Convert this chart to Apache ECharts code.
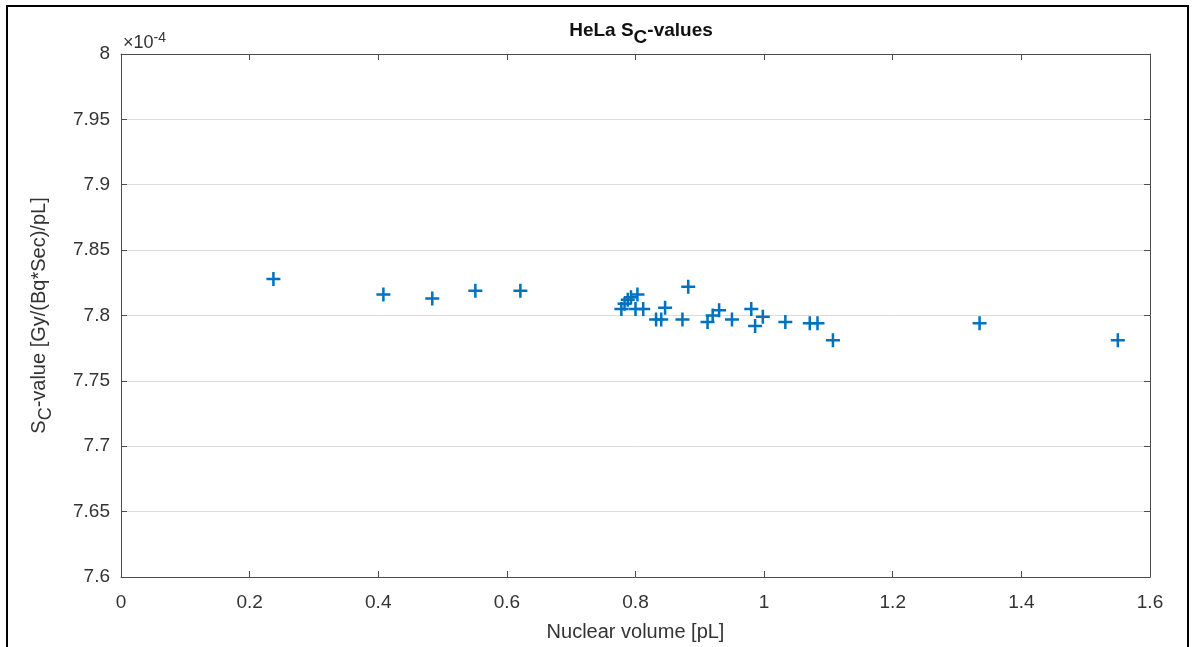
<!DOCTYPE html>
<html>
<head>
<meta charset="utf-8">
<script src="https://cdn.jsdelivr.net/npm/echarts@6/dist/echarts.min.js"></script>
<style>
  html, body { margin: 0; padding: 0; background: #fff; }
  #chart { width: 1194px; height: 647px; }
</style>
</head>
<body>
<div id="chart"></div>
<script>
// nuclear volume [pL]
const volume = [0.237, 0.408, 0.484, 0.551, 0.621,
  0.778, 0.783, 0.788, 0.793, 0.800, 0.803, 0.812,
  0.832, 0.840, 0.846, 0.873, 0.882,
  0.912, 0.920, 0.930, 0.950, 0.980, 0.986, 0.998,
  1.033, 1.071, 1.083, 1.107, 1.335, 1.550]
// S_C value, in units of 1e-4 Gy/(Bq*Sec)/pL
const scValue = [7.828, 7.816, 7.813, 7.819, 7.819,
  7.805, 7.809, 7.812, 7.814, 7.805, 7.816, 7.805,
  7.797, 7.797, 7.806, 7.797, 7.822,
  7.795, 7.800, 7.804, 7.797, 7.805, 7.792, 7.799,
  7.795, 7.794, 7.794, 7.781, 7.794, 7.781]
const xTicks = [0, 1.6, 0.2]   // min, max, step
const yTicks = [7.6, 8.0, 0.05]

const points = volume.map((v, i) => [v, scValue[i]])

const axisColor = '#4d4d4d'
const textColor = '#333'
const font = 'Liberation Sans, Arial, sans-serif'
const plus = 'path://M4.1,0H5.9V4.1H10V5.9H5.9V10H4.1V5.9H0V4.1H4.1Z'

const xBase = {
  type: 'value', min: xTicks[0], max: xTicks[1], interval: xTicks[2],
  axisLine: { show: true, onZero: false, lineStyle: { color: axisColor, width: 1 } },
  axisTick: { show: true, inside: true, length: 6, lineStyle: { color: axisColor } },
  splitLine: { show: false }
}
const yBase = {
  type: 'value', min: yTicks[0], max: yTicks[1], interval: yTicks[2],
  axisLine: { show: true, onZero: false, lineStyle: { color: axisColor, width: 1 } },
  axisTick: { show: true, inside: true, length: 6, lineStyle: { color: axisColor } }
}

const option = {
  animation: false,
  title: {
    text: 'HeLa S{sub|C}-values',
    left: 636, top: 9, textAlign: 'center',
    textStyle: {
      fontFamily: font, fontSize: 19, fontWeight: 'bold', color: '#111',
      rich: { sub: { fontFamily: font, fontSize: 19, fontWeight: 'bold', color: '#111', verticalAlign: 'bottom', padding: [14, 0, 0, 0] } }
    }
  },
  grid: { left: 121, right: 44, top: 54, bottom: 70 },
  xAxis: [
    Object.assign({}, xBase, {
      position: 'bottom',
      name: 'Nuclear volume [pL]', nameLocation: 'middle', nameGap: 45,
      nameTextStyle: { fontFamily: font, fontSize: 20, color: textColor },
      axisLabel: { fontFamily: font, fontSize: 19, color: textColor, margin: 16 }
    }),
    Object.assign({}, xBase, { position: 'top', axisLabel: { show: false } })
  ],
  yAxis: [
    Object.assign({}, yBase, {
      position: 'left',
      name: 'S{sub|C}-value [Gy/(Bq*Sec)/pL]', nameLocation: 'middle', nameGap: 66,
      nameTextStyle: {
        fontFamily: font, fontSize: 20, color: textColor,
        rich: { sub: { fontFamily: font, fontSize: 18, color: textColor, verticalAlign: 'bottom', padding: [14, 0, 0, 0] } }
      },
      axisLabel: { fontFamily: font, fontSize: 19, color: textColor, margin: 11 },
      splitLine: { show: true, lineStyle: { color: '#dcdcdc', width: 1 } }
    }),
    Object.assign({}, yBase, { position: 'right', axisLabel: { show: false }, splitLine: { show: false } })
  ],
  graphic: [
    {
      type: 'rect', silent: true,
      shape: { x: 7, y: 6, width: 1181, height: 660 },
      style: { fill: 'none', stroke: '#000', lineWidth: 2 }
    },
    {
      type: 'text', left: 123, top: 31,
      style: {
        text: '×10{sup|-4}', fontFamily: font, fontSize: 18, fill: textColor,
        rich: { sup: { fontFamily: font, fontSize: 14, fill: textColor, verticalAlign: 'top', padding: [0, 0, 10, 0] } }
      }
    }
  ],
  series: [
    {
      type: 'scatter',
      data: points,
      symbol: plus,
      symbolSize: 14,
      itemStyle: { color: '#0072BD', opacity: 1 }
    }
  ]
}

const chart = echarts.init(document.getElementById('chart'))
chart.setOption(option)
</script>
</body>
</html>
